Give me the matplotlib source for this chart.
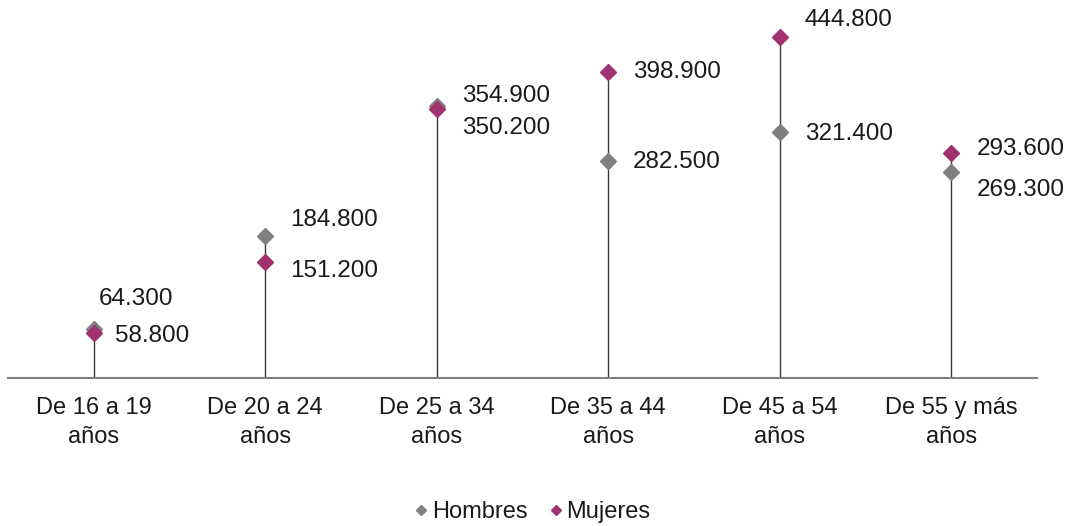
import matplotlib
matplotlib.use("Agg")
from matplotlib import pyplot as plt

categorias = ["De 16 a 19\naños", "De 20 a 24\naños", "De 25 a 34\naños",
              "De 35 a 44\naños", "De 45 a 54\naños", "De 55 y más\naños"]
hombres = [64.3, 184.8, 354.9, 282.5, 321.4, 269.3]
mujeres = [58.8, 151.2, 350.2, 398.9, 444.8, 293.6]
etiq_hombres = ["64.300", "184.800", "354.900", "282.500", "321.400", "269.300"]
etiq_mujeres = ["58.800", "151.200", "350.200", "398.900", "444.800", "293.600"]

# label offsets in pixels (dx, dy), dy positive = up
off_h = [(5, 30), (25, 16), (25, 10), (25, -1), (25, -2), (25, -18)]
off_m = [(21, -3), (25, -9), (25, -19), (25, 0), (25, 17), (25, 4)]

GRIS = "#7f7f7f"
MAGENTA = "#a03270"
TXT = "#1a1a1a"

plt.rcParams["font.family"] = ["Liberation Sans", "DejaVu Sans"]

fig = plt.figure(figsize=(10.7, 5.26), dpi=100)
ax = fig.add_axes([8 / 1070, 148 / 526, 1029 / 1070, 378 / 526])

x = list(range(len(categorias)))
for i in x:
    ax.vlines(i, 0, max(hombres[i], mujeres[i]), color="#3a3a3a", lw=1.0, zorder=1)

ax.plot(x, hombres, ls="none", marker="D", ms=8, color=GRIS, label="Hombres", zorder=2)
ax.plot(x, mujeres, ls="none", marker="D", ms=8, color=MAGENTA, label="Mujeres", zorder=3)

px = 72 / 100
for i in x:
    ax.annotate(etiq_hombres[i], (i, hombres[i]), xytext=(off_h[i][0] * px, off_h[i][1] * px),
                textcoords="offset points", ha="left", va="center", fontsize=17.5, color=TXT)
    ax.annotate(etiq_mujeres[i], (i, mujeres[i]), xytext=(off_m[i][0] * px, off_m[i][1] * px),
                textcoords="offset points", ha="left", va="center", fontsize=17.5, color=TXT)

ax.set_xlim(-0.5, 5.5)
ax.set_ylim(0, 493)
ax.set_xticks(x)
ax.set_xticklabels(categorias, fontsize=17, color=TXT, linespacing=1.4)
ax.tick_params(axis="x", length=0, pad=14)
ax.set_yticks([])
for s in ["top", "right", "left"]:
    ax.spines[s].set_visible(False)
ax.spines["bottom"].set_color(GRIS)
ax.spines["bottom"].set_linewidth(1.5)
ax.patch.set_visible(False)

fig.legend(loc="center", bbox_to_anchor=(0.496, 0.026), ncol=2, frameon=False,
           fontsize=17, markerscale=0.7, handletextpad=0.0, columnspacing=0.75,
           handlelength=0.9, labelcolor=TXT)

fig.savefig("out.png", dpi=100)
